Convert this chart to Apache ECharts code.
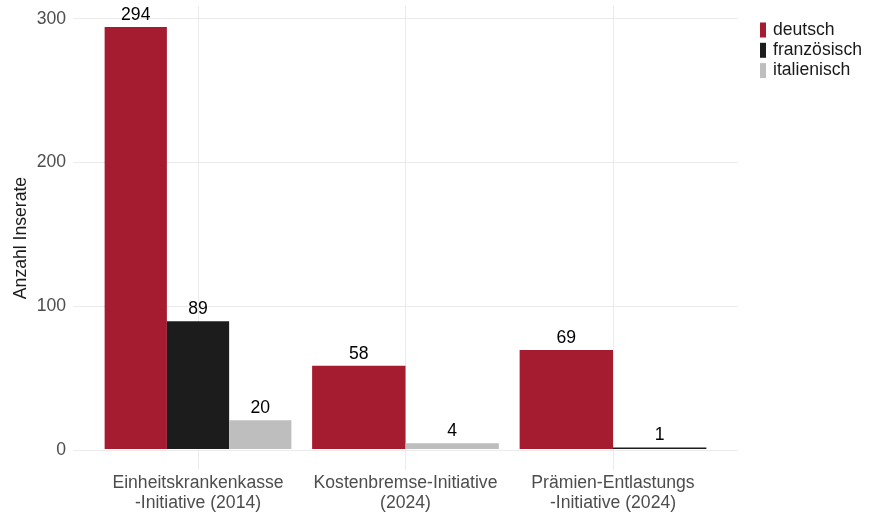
<!DOCTYPE html>
<html>
<head>
<meta charset="utf-8">
<script src="https://cdn.jsdelivr.net/npm/echarts@6/dist/echarts.min.js"></script>
<style>
html,body{margin:0;padding:0;background:#fff;}
#chart{width:873px;height:516px;}
</style>
</head>
<body>
<div id="chart"></div>
<script>
const categories = ['Einheitskrankenkasse\n-Initiative (2014)', 'Kostenbremse-Initiative\n(2024)', 'Prämien-Entlastungs\n-Initiative (2024)'];
const seriesNames = ['deutsch', 'französisch', 'italienisch'];
const deutsch = [294, 58, 69];
const franzoesisch = [89, null, 1];
const italienisch = [20, 4, null];
const yTicks = [0, 100, 200, 300];

const allSeries = [deutsch, franzoesisch, italienisch];
const colors = ['#A51B2F', '#1C1C1C', '#BEBEBE'];
const FONT = '"Liberation Sans", Arial, sans-serif';
const FS = 17.6;

function makeRender(sIdx) {
  return function (params, api) {
    const cat = api.value(0);
    const val = api.value(1);
    const present = [];
    allSeries.forEach(function (arr, i) { if (arr[cat] != null) present.push(i); });
    const n = present.length;
    const k = present.indexOf(sIdx);
    const band = api.size([1, 0])[0];
    const groupW = band * 0.9;
    const barW = groupW / n;
    const base = api.coord([cat, 0]);
    const top = api.coord([cat, val]);
    const x0 = base[0] - groupW / 2 + k * barW;
    return {
      type: 'group',
      children: [
        { type: 'rect', shape: { x: x0, y: top[1], width: barW, height: base[1] - top[1] },
          style: { fill: colors[sIdx] } },
        { type: 'text', style: { text: String(val), x: x0 + barW / 2, y: top[1] - 12,
          align: 'center', verticalAlign: 'middle', fill: '#000',
          fontSize: FS, fontFamily: FONT } }
      ]
    };
  };
}

const series = allSeries.map(function (arr, i) {
  const data = [];
  arr.forEach(function (v, c) { if (v != null) data.push([c, v]); });
  return {
    type: 'custom',
    name: seriesNames[i],
    xAxisIndex: 0,
    yAxisIndex: 0,
    itemStyle: { color: colors[i] },
    encode: { x: 0, y: 1 },
    renderItem: makeRender(i),
    data: data,
    clip: false
  };
});

const chart = echarts.init(document.getElementById('chart'), null, { renderer: 'canvas' });
chart.setOption({
  animation: false,
  backgroundColor: '#fff',
  textStyle: { fontFamily: FONT },
  legend: {
    orient: 'vertical',
    left: 755,
    top: 16,
    icon: 'rect',
    itemWidth: 6,
    itemHeight: 15,
    itemGap: 2.3,
    textStyle: { fontSize: FS, color: '#1a1a1a', fontFamily: FONT, lineHeight: 15, padding: [0, 0, 0, 2] },
    data: seriesNames
  },
  grid: [
    { left: 94.25, right: 156.25, top: 6, bottom: 46, containLabel: false },
    { left: 73.5, right: 135.5, top: 18.7, bottom: 66, containLabel: false }
  ],
  xAxis: [
    {
      gridIndex: 0, type: 'category', data: categories, boundaryGap: true,
      axisLine: { show: false }, axisTick: { show: false },
      splitLine: { show: true, alignWithLabel: true, lineStyle: { color: '#ebebeb', width: 1 } },
      axisLabel: { color: '#4d4d4d', fontSize: FS, fontFamily: FONT, lineHeight: 20, margin: 3, interval: 0 }
    },
    { gridIndex: 1, type: 'value', min: 0, max: 1, show: false }
  ],
  yAxis: [
    {
      gridIndex: 0, type: 'value', min: -14.7, max: 308.7,
      axisLine: { show: false }, axisTick: { show: false },
      axisLabel: { show: false }, splitLine: { show: false },
      name: 'Anzahl Inserate', nameLocation: 'middle', nameGap: 64,
      nameTextStyle: { color: '#1a1a1a', fontSize: FS, fontFamily: FONT }
    },
    {
      gridIndex: 1, type: 'value', min: yTicks[0], max: yTicks[yTicks.length - 1], interval: 100,
      axisLine: { show: false }, axisTick: { show: false },
      axisLabel: { color: '#4d4d4d', fontSize: FS, fontFamily: FONT, margin: 7.5 },
      splitLine: { show: true, lineStyle: { color: '#ebebeb', width: 1 } }
    }
  ],
  series: series
});
</script>
</body>
</html>
